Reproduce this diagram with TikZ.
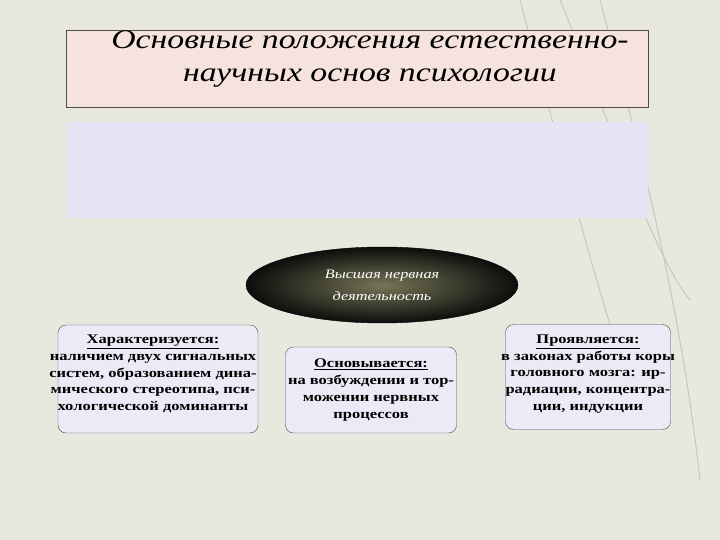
\documentclass[tikz,border=0pt]{standalone}
\usepackage{fontspec}
\setmainfont{Liberation Serif}
\newfontfamily\widefont[FakeStretch=1.25]{Liberation Serif}
\usetikzlibrary{shapes.geometric}
\definecolor{bg}{HTML}{E9E8DF}
\definecolor{pinkbox}{HTML}{F6E3DE}
\definecolor{lav}{HTML}{E7E2F4}
\definecolor{boxf}{HTML}{EDE9F6}
\begin{document}
\begin{tikzpicture}[x=1pt,y=-1pt,
  infobox/.style={draw=black!70,fill=boxf,rounded corners=8pt,inner sep=0pt},
  infotext/.style={align=center,font=\widefont\fontsize{13.2}{16.7}\selectfont\bfseries,inner sep=0pt}]
\fill[bg] (0,0) rectangle (720,540);
\useasboundingbox (0,0) rectangle (720,540);
\begin{scope}[draw=gray!45,line width=1pt]
\draw (520,0) .. controls (560,150) and (600,300) .. (640,420);
\draw (600,0) .. controls (640,150) and (680,300) .. (700,480);
\draw (560,0) .. controls (610,120) and (650,250) .. (690,300);
\end{scope}
\node[draw=black!70,fill=pinkbox,minimum width=582pt,minimum height=77pt,anchor=north west,inner sep=0] (title) at (66,30) {};
\node[align=center,font=\widefont\fontsize{27}{33}\selectfont\itshape] (tt) at (370,59) {Основные положения естественно-\\научных основ психологии};
\node[fill=lav,minimum width=582pt,minimum height=96pt,anchor=north west,inner sep=0] (lav) at (66,122) {};
\node[ellipse,minimum width=272pt,minimum height=76pt,inner color=black!80!olive!60,outer color=black!95,draw=black,align=center,text=white,font=\widefont\fontsize{13}{22}\selectfont\itshape] (vnd) at (382,285) {Высшая нервная\\деятельность};
\node[infobox,minimum width=200pt,minimum height=108pt] (l) at (158,379) {};
\node[infobox,minimum width=171pt,minimum height=86pt] (m) at (371,390) {};
\node[infobox,minimum width=165pt,minimum height=105pt] (r) at (588,377) {};
\node[infotext] (lt) at (153,374) {\underline{Характеризуется:}\\наличием двух сигнальных\\систем, образованием дина-\\мического стереотипа, пси-\\хологической доминанты};
\node[infotext] (mt) at (371,390) {\underline{Основывается:}\\на возбуждении и тор-\\можении нервных\\процессов};
\node[infotext] (rt) at (588,374) {\underline{Проявляется:}\\в законах работы коры\\головного мозга: ир-\\радиации, концентра-\\ции, индукции};
\end{tikzpicture}
\end{document}
